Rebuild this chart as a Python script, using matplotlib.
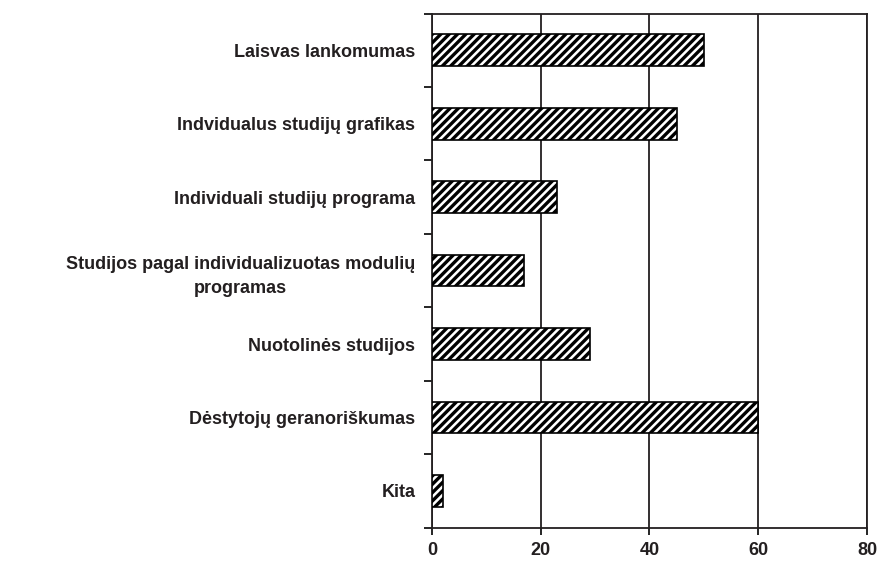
import matplotlib
matplotlib.use('Agg')
import matplotlib.pyplot as plt
import numpy as np

plt.rcParams['font.family'] = ['Liberation Sans', 'DejaVu Sans']
plt.rcParams['hatch.linewidth'] = 2.4

categories = ['Laisvas lankomumas',
              'Indvidualus studijų grafikas',
              'Individuali studijų programa',
              'Studijos pagal individualizuotas modulių\nprogramas',
              'Nuotolinės studijos',
              'Dėstytojų geranoriškumas',
              'Kita']
values = [50, 45, 23, 17, 29, 60, 2]
x_ticks = [0, 20, 40, 60, 80]

fig = plt.figure(figsize=(8.8, 5.64), dpi=100)
ax = fig.add_axes([0.4909, 0.0644, 0.4943, 0.9116])

y = np.arange(len(categories))
ax.barh(y, values, height=0.43, color='white', edgecolor='black',
        hatch='////', linewidth=1.2, zorder=3)

ax.set_xlim(0, 80)
ax.set_ylim(len(categories) - 0.5, -0.5)
ax.set_xticks(x_ticks)
ax.set_xticklabels([str(t) for t in x_ticks], fontsize=13, fontweight='bold', color='#231f20')
ax.tick_params(axis='x', length=5, width=1.2, pad=5)

ax.set_yticks(y)
ax.set_yticklabels(categories, fontsize=13, fontweight='bold', color='#231f20',
                   multialignment='center', linespacing=1.6)
ax.tick_params(axis='y', which='major', length=0, pad=12)
ax.set_yticks(np.arange(len(categories) + 1) - 0.5, minor=True)
ax.tick_params(axis='y', which='minor', length=6, width=1.2)

ax.xaxis.grid(True, color='#231f20', linewidth=1.3, zorder=0)
ax.set_axisbelow(True)
for s in ax.spines.values():
    s.set_linewidth(1.3)
    s.set_color('#231f20')

fig.savefig('out.png', dpi=100)
